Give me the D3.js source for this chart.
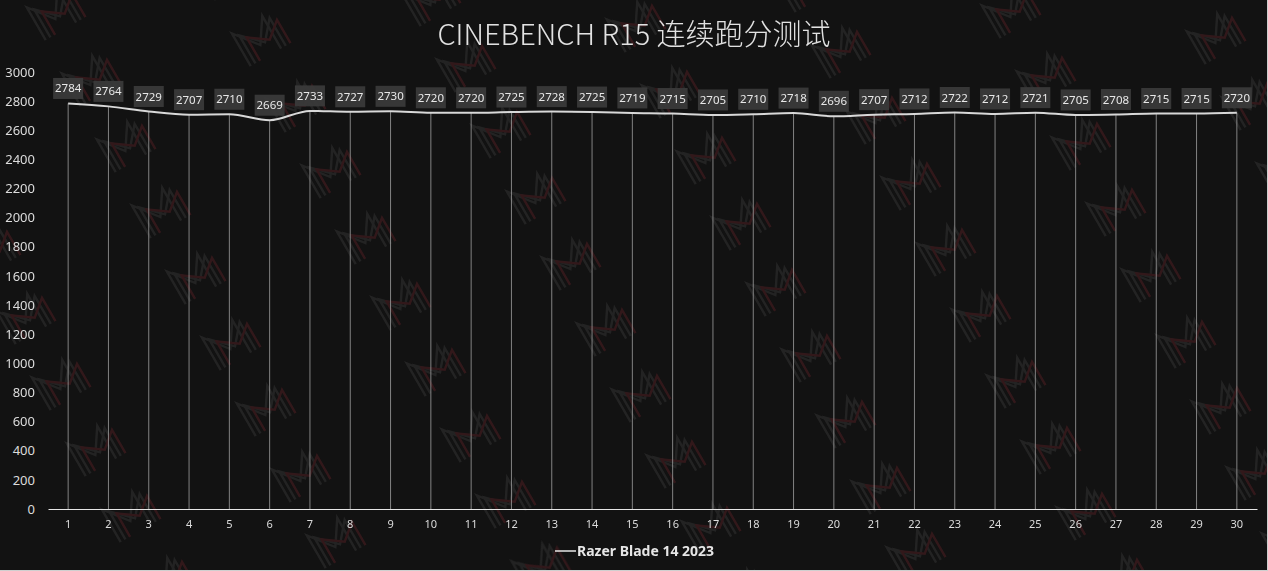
<!DOCTYPE html>
<html><head><meta charset="utf-8">
<script src="https://cdn.jsdelivr.net/npm/d3@7/dist/d3.min.js"></script>
<style>
html,body{margin:0;padding:0;background:#121212;}
svg{display:block;}
</style></head>
<body>
<svg id="chart" width="1268" height="571"></svg>
<script>
const title = "CINEBENCH R15 连续跑分测试";
const seriesName = "Razer Blade 14 2023";
const runs = d3.range(1, 31).map(String);
const scores = [2784,2764,2729,2707,2710,2669,2733,2727,2730,2720,2720,2725,2728,2725,2719,2715,2705,2710,2718,2696,2707,2712,2722,2712,2721,2705,2708,2715,2715,2720];
const yTicks = d3.range(0, 3001, 200);

const W = 1268, H = 571;
const m = {left: 48, right: 11, top: 72, bottom: 62};
const svg = d3.select("#chart");
svg.append("rect").attr("width", W).attr("height", H).attr("fill", "#121212");

// watermark pattern (decorative)
const wm = svg.append("g").attr("opacity", 0.45);
function mark(x, y) {
  const g = wm.append("g").attr("transform", `translate(${x},${y}) rotate(-30) scale(1.35)`);
  const grey = "#3a3a3a";
  for (let k = 0; k < 3; k++) {
    const o = k * 4;
    g.append("polyline").attr("points", `${-16+o},${14} ${-16+o},${-14+o} ${-2+o},${4} ${10+o},${-14+o} ${10+o},${14}`)
      .attr("fill", "none").attr("stroke", k === 2 ? "#5c2228" : grey).attr("stroke-width", 1.8);
  }
}
for (let i = -6; i < 20; i++) {
  for (let j = -6; j < 16; j++) {
    const x = 125 + i * 170 + j * 35;
    const y = 145 - i * 40 + j * 66;
    if (x > -40 && x < W + 40 && y > -40 && y < H + 40) mark(x, y);
  }
}

const x = d3.scaleBand().domain(runs).range([m.left, W - m.right]);
const y = d3.scaleLinear().domain([0, 3000]).range([H - m.bottom, m.top]);
const cx = d => x(d) + x.bandwidth() / 2;
const font = "'Noto Sans','Open Sans',sans-serif";

// y axis labels
const yAxis = svg.append("g").attr("transform", `translate(${m.left - 13},0)`)
  .call(d3.axisLeft(y).tickValues(yTicks).tickFormat(d3.format("d")).tickSize(0).tickPadding(0));
yAxis.select(".domain").remove();
yAxis.selectAll("text").attr("fill", "#dcdcdc").style("font-family", font).style("font-size", "13px");

// drop lines
svg.append("g").selectAll("line").data(runs).join("line")
  .attr("x1", d => cx(d)).attr("x2", d => cx(d))
  .attr("y1", (d, i) => y(scores[i])).attr("y2", y(0))
  .attr("stroke", "#a0a0a0").attr("stroke-width", 0.8);

// x axis
const xAxis = svg.append("g").attr("transform", `translate(0,${y(0)})`)
  .call(d3.axisBottom(x).tickSize(0).tickPadding(11));
xAxis.select(".domain").attr("stroke", "#e6e6e6").attr("stroke-width", 1.2);
xAxis.selectAll("text").attr("fill", "#dcdcdc").style("font-family", font).style("font-size", "11px");

// line
const line = d3.line().x((d, i) => cx(runs[i])).y(d => y(d)).curve(d3.curveMonotoneX);
svg.append("path").datum(scores).attr("d", line)
  .attr("fill", "none").attr("stroke", "#d8d8d8").attr("stroke-width", 2);

// data labels
const lab = svg.append("g").selectAll("g").data(scores).join("g")
  .attr("transform", (d, i) => `translate(${cx(runs[i])},${y(d) - 15})`);
lab.append("rect").attr("x", -15).attr("y", -10.5).attr("width", 30).attr("height", 21)
  .attr("fill", "#3a3a3a").attr("opacity", 0.95);
lab.append("text").text(d => d).attr("text-anchor", "middle").attr("dy", "0.35em")
  .attr("fill", "#e8e8e8").style("font-family", font).style("font-size", "11.5px");

// title
svg.append("text").text(title).attr("x", W / 2).attr("y", 45).attr("text-anchor", "middle")
  .attr("fill", "#e2e2e2").style("font-family", "'Noto Sans CJK SC','Noto Sans',sans-serif")
  .style("font-weight", 300).style("font-size", "29px");

// legend
const lg = svg.append("g").attr("transform", "translate(555,551)");
lg.append("line").attr("x1", 0).attr("x2", 21).attr("stroke", "#e6e6e6").attr("stroke-width", 1.5);
lg.append("text").text(seriesName).attr("x", 22).attr("dy", "0.35em")
  .attr("fill", "#e6e6e6").style("font-family", font)
  .style("font-weight", 700).style("font-size", "14px");

// frame edges
svg.append("line").attr("x1", 0).attr("x2", W).attr("y1", H - 0.5).attr("y2", H - 0.5).attr("stroke", "#cfcfcf");
svg.append("line").attr("x1", W - 0.5).attr("x2", W - 0.5).attr("y1", 0).attr("y2", H).attr("stroke", "#cfcfcf");
</script>
</body></html>
